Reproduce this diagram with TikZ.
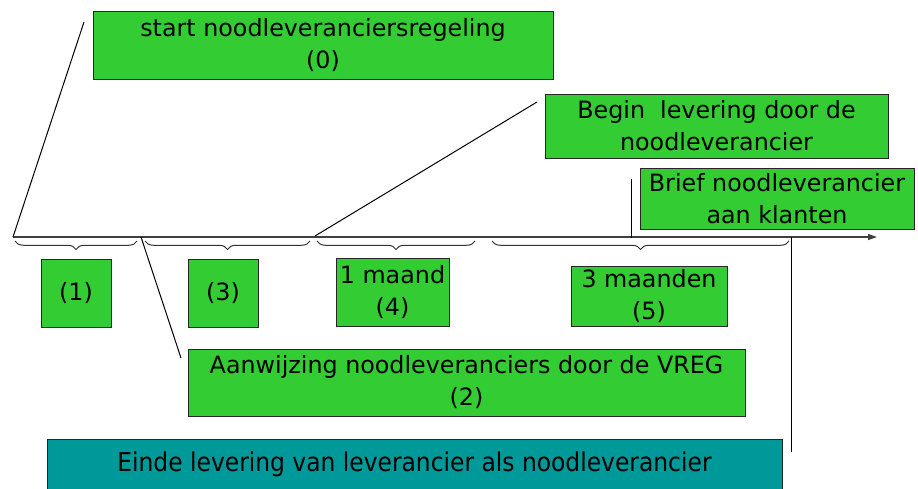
\documentclass[tikz,border=0pt]{standalone}
\usepackage{fontspec}
\setmainfont{DejaVu Sans}
\newfontfamily\condfont{DejaVu Sans Condensed}
\usetikzlibrary{arrows.meta,decorations.pathreplacing}
\definecolor{boxgreen}{RGB}{51,204,51}
\definecolor{boxteal}{RGB}{0,153,153}
\begin{document}
\begin{tikzpicture}[x=1pt,y=-1pt,line width=1pt,
    stap/.style={draw=black!85,fill=boxgreen,inner sep=0pt,align=center,
        font=\fontsize{23.8}{32}\selectfont},
    accolade/.style={decorate,decoration={brace,mirror,amplitude=8.5pt},draw=black!80}]
    \useasboundingbox (0,0) rectangle (918,488);

    % tijdlijn
    \coordinate (T0) at (13,237);
    \coordinate (TE) at (877,237);
    \draw[black!75,line width=1.2pt,-{Triangle[length=9pt,width=6pt]}] (T0)--(TE);

    \node[stap,minimum width=460,minimum height=68] (S0) at (323,45) {start noodleveranciersregeling\\(0)};
    \node[stap,minimum width=343,minimum height=64] (BL) at (716.5,126) {Begin\ \ levering door de\\noodleverancier};
    \node[stap,minimum width=274,minimum height=61] (BR) at (777,198.5) {Brief noodleverancier\\aan klanten};
    \node[stap,minimum width=70,minimum height=68] (P1) at (76,293) {(1)};
    \node[stap,minimum width=70,minimum height=68] (P3) at (223,293) {(3)};
    \node[stap,minimum width=113,minimum height=68] (P4) at (392.5,292) {1 maand\\(4)};
    \node[stap,minimum width=156,minimum height=60] (P5) at (649,296) {3 maanden\\(5)};
    \node[stap,minimum width=557,minimum height=67] (P2) at (466.5,382.5) {Aanwijzing noodleveranciers door de VREG\\(2)};
    \node[stap,fill=boxteal,minimum width=735,minimum height=50,font=\condfont\fontsize{26}{30}\selectfont] (EI) at (414.5,464) {Einde levering van leverancier als noodleverancier};

    \coordinate (a0) at (84,22);
    \coordinate (a1) at (141,237);
    \coordinate (a2) at (181,358);
    \coordinate (a3) at (315,236);
    \coordinate (a4) at (537,102);
    \coordinate (a5) at (631,179);
    \coordinate (a6) at (631,238);
    \coordinate (a7) at (791,237);
    \coordinate (a8) at (791,452);

    \draw (T0)--(a0);
    \draw (a1)--(a2);
    \draw (a3)--(a4);
    \draw (a5)--(a6);
    \draw (a7)--(a8);

    % accolades
    \draw[accolade] (15,241)--(137,241);
    \draw[accolade] (145,241)--(310,241);
    \draw[accolade] (317,241)--(475,241);
    \draw[accolade] (492,241)--(789,241);
\end{tikzpicture}
\end{document}
